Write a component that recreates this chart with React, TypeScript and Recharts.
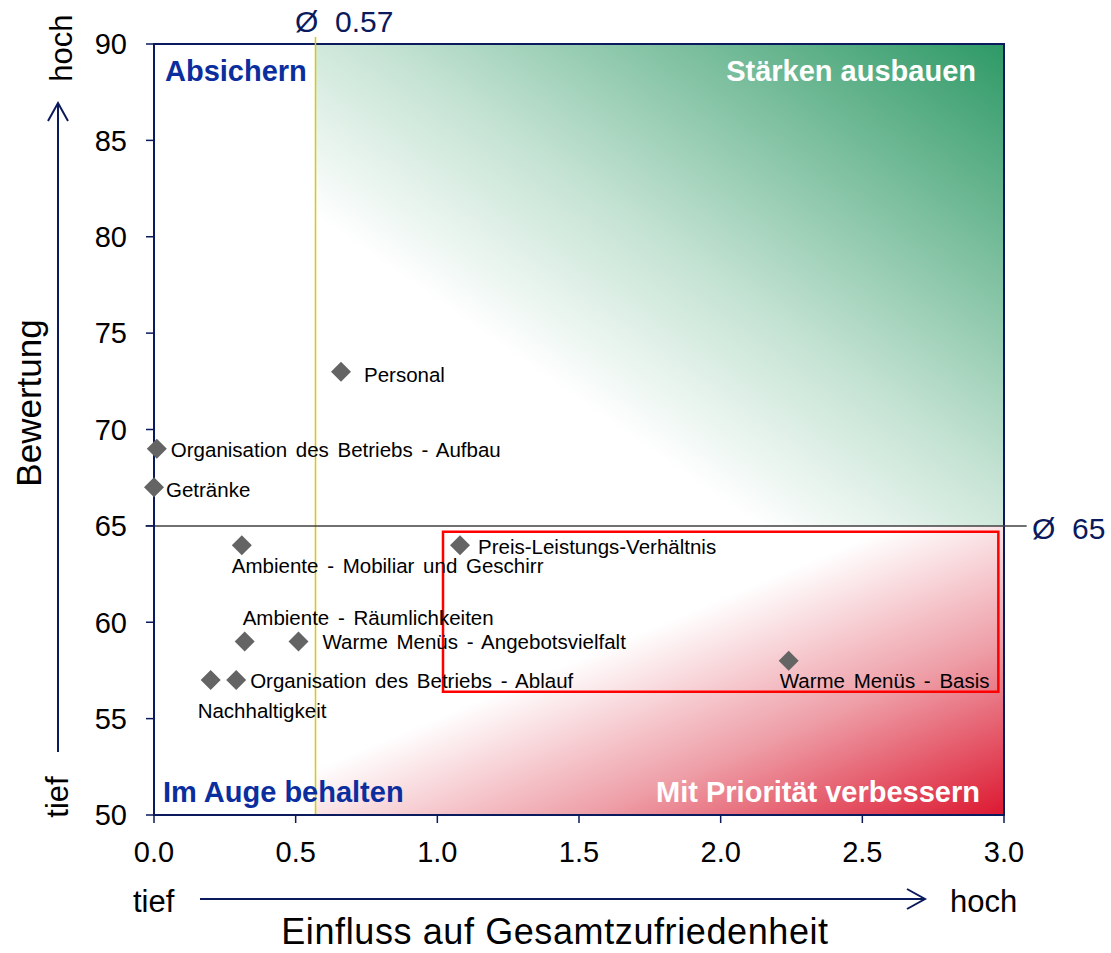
import React from "react"
import {
  ScatterChart,
  Scatter,
  XAxis,
  YAxis,
  ReferenceArea,
  ReferenceLine,
} from "recharts"

const categories = [
  "Personal",
  "Organisation des Betriebs - Aufbau",
  "Getränke",
  "Ambiente - Mobiliar und Geschirr",
  "Preis-Leistungs-Verhältnis",
  "Ambiente - Räumlichkeiten",
  "Warme Menüs - Angebotsvielfalt",
  "Nachhaltigkeit",
  "Organisation des Betriebs - Ablauf",
  "Warme Menüs - Basis",
]
const einfluss = [0.66, 0.01, 0.0, 0.31, 1.08, 0.32, 0.51, 0.2, 0.29, 2.24]
const bewertung = [73, 69, 67, 64, 64, 59, 59, 57, 57, 58]

const xTicks = [0, 0.5, 1, 1.5, 2, 2.5, 3]
const yTicks = [50, 55, 60, 65, 70, 75, 80, 85, 90]

const avgEinfluss = 0.57
const avgBewertung = 65
const focusBox = { x1: 1.02, x2: 2.98, y1: 56.4, y2: 64.7 }

// where each point's label sits relative to its diamond
const labelPos = [
  { dx: 23, dy: 10 },
  { dx: 14, dy: 8 },
  { dx: 12, dy: 10 },
  { dx: -10, dy: 28 },
  { dx: 18, dy: 9 },
  { dx: -2, dy: -17 },
  { dx: 24, dy: 7 },
  { dx: -13, dy: 38 },
  { dx: 14, dy: 8 },
  { dx: -9, dy: 27 },
]

const points = categories.map((name, i) => ({ name, x: einfluss[i], y: bewertung[i], idx: i }))

const NAVY = "#0a1a5c"
const FONT = "Arial, 'Liberation Sans', sans-serif"
const QUAD_BLUE = "#0b2e9e"

function Diamond(props: any) {
  const { cx, cy, payload } = props
  if (cx == null || cy == null) return null
  const p = labelPos[payload.idx]
  const r = 10
  return (
    <g>
      <polygon
        points={`${cx},${cy - r} ${cx + r},${cy} ${cx},${cy + r} ${cx - r},${cy}`}
        fill="#646464"
      />
      <text x={cx + p.dx} y={cy + p.dy} fontSize={20.5} wordSpacing={3} fontFamily={FONT} fill="#000">
        {payload.name}
      </text>
    </g>
  )
}

export default function App() {
  return (
    <div style={{ position: "absolute", left: 0, top: 0, width: 1111, height: 953, background: "#fff" }}>
      <ScatterChart
        width={1111}
        height={953}
        margin={{ top: 44, right: 107, bottom: 88, left: 94 }}
        style={{ fontFamily: FONT }}
      >
        <defs>
          <linearGradient id="greenGrad" x1="0" y1="1" x2="1" y2="0">
            <stop offset="0" stopColor="#ffffff" />
            <stop offset="0.32" stopColor="#ffffff" />
            <stop offset="0.55" stopColor="#c3e2d2" />
            <stop offset="1" stopColor="#2e9966" />
          </linearGradient>
          <linearGradient id="redGrad" x1="0" y1="0" x2="1" y2="1">
            <stop offset="0" stopColor="#ffffff" />
            <stop offset="0.42" stopColor="#ffffff" />
            <stop offset="0.7" stopColor="#ee9ea7" />
            <stop offset="1" stopColor="#dc1830" />
          </linearGradient>
        </defs>
        <XAxis
          type="number"
          dataKey="x"
          domain={[0, 3]}
          ticks={xTicks}
          tickFormatter={(v: number) => v.toFixed(1)}
          axisLine={{ stroke: NAVY, strokeWidth: 2 }}
          tickLine={{ stroke: NAVY, strokeWidth: 1.5 }}
          tickSize={8}
          tickMargin={18}
          tick={{ fill: "#000", fontSize: 29, fontFamily: FONT }}
          height={50}
        />
        <YAxis
          type="number"
          dataKey="y"
          domain={[50, 90]}
          ticks={yTicks}
          axisLine={{ stroke: NAVY, strokeWidth: 2 }}
          tickLine={{ stroke: NAVY, strokeWidth: 1.5 }}
          tickSize={8}
          tickMargin={19}
          tick={{ fill: "#000", fontSize: 29, fontFamily: FONT }}
          width={60}
        />
        <ReferenceArea x1={avgEinfluss} x2={3} y1={avgBewertung} y2={90} fill="url(#greenGrad)" fillOpacity={1} stroke="none" />
        <ReferenceArea x1={avgEinfluss} x2={3} y1={50} y2={avgBewertung} fill="url(#redGrad)" fillOpacity={1} stroke="none" />
        <ReferenceArea x1={0} x2={3} y1={50} y2={90} fill="none" stroke={NAVY} strokeWidth={2} />
        <ReferenceLine
          segment={[{ x: avgEinfluss, y: 90.36 }, { x: avgEinfluss, y: 50 }]}
          stroke="#d8cc00"
          strokeWidth={1.5}
          ifOverflow="visible"
        />
        <ReferenceLine
          segment={[{ x: -0.03, y: avgBewertung }, { x: 3.08, y: avgBewertung }]}
          stroke="#404040"
          strokeWidth={1.5}
          ifOverflow="visible"
        />
        <ReferenceArea
          x1={focusBox.x1}
          x2={focusBox.x2}
          y1={focusBox.y1}
          y2={focusBox.y2}
          fill="none"
          stroke="#ff0000"
          strokeWidth={2.5}
        />
        <Scatter data={points} shape={<Diamond />} isAnimationActive={false} />
      </ScatterChart>
      <svg
        width={1111}
        height={953}
        style={{ position: "absolute", left: 0, top: 0, pointerEvents: "none" }}
        fontFamily={FONT}
      >
        <text x={295} y={32} fontSize={30} fill={NAVY} xmlSpace="preserve">{`Ø  ${avgEinfluss}`}</text>
        <text x={1032} y={539} fontSize={30} fill={NAVY} xmlSpace="preserve">{`Ø  ${avgBewertung}`}</text>

        <text x={165} y={81} fontSize={29} fontWeight="bold" fill={QUAD_BLUE}>Absichern</text>
        <text x={976} y={81} fontSize={29} fontWeight="bold" fill="#fff" textAnchor="end">Stärken ausbauen</text>
        <text x={163} y={802} fontSize={29} fontWeight="bold" fill={QUAD_BLUE}>Im Auge behalten</text>
        <text x={980} y={802} fontSize={29} fontWeight="bold" fill="#fff" textAnchor="end">Mit Priorität verbessern</text>

        <text x={72} y={48} fontSize={31} textAnchor="middle" transform="rotate(-90 72 48)">hoch</text>
        <text x={68} y={797} fontSize={31} textAnchor="middle" transform="rotate(-90 68 797)">tief</text>
        <text x={41} y={403} fontSize={35} textAnchor="middle" transform="rotate(-90 41 403)">Bewertung</text>
        <line x1={58} y1={752} x2={58} y2={103} stroke={NAVY} strokeWidth={2} />
        <polyline points="48,121 58,103 68,121" fill="none" stroke={NAVY} strokeWidth={2} />

        <text x={133} y={912} fontSize={31}>tief</text>
        <text x={950} y={912} fontSize={31}>hoch</text>
        <line x1={200} y1={899} x2={925} y2={899} stroke={NAVY} strokeWidth={2} />
        <polyline points="907,889 925,899 907,909" fill="none" stroke={NAVY} strokeWidth={2} />
        <text x={555} y={944} fontSize={36} letterSpacing={0.6} textAnchor="middle">Einfluss auf Gesamtzufriedenheit</text>
      </svg>
    </div>
  )
}
